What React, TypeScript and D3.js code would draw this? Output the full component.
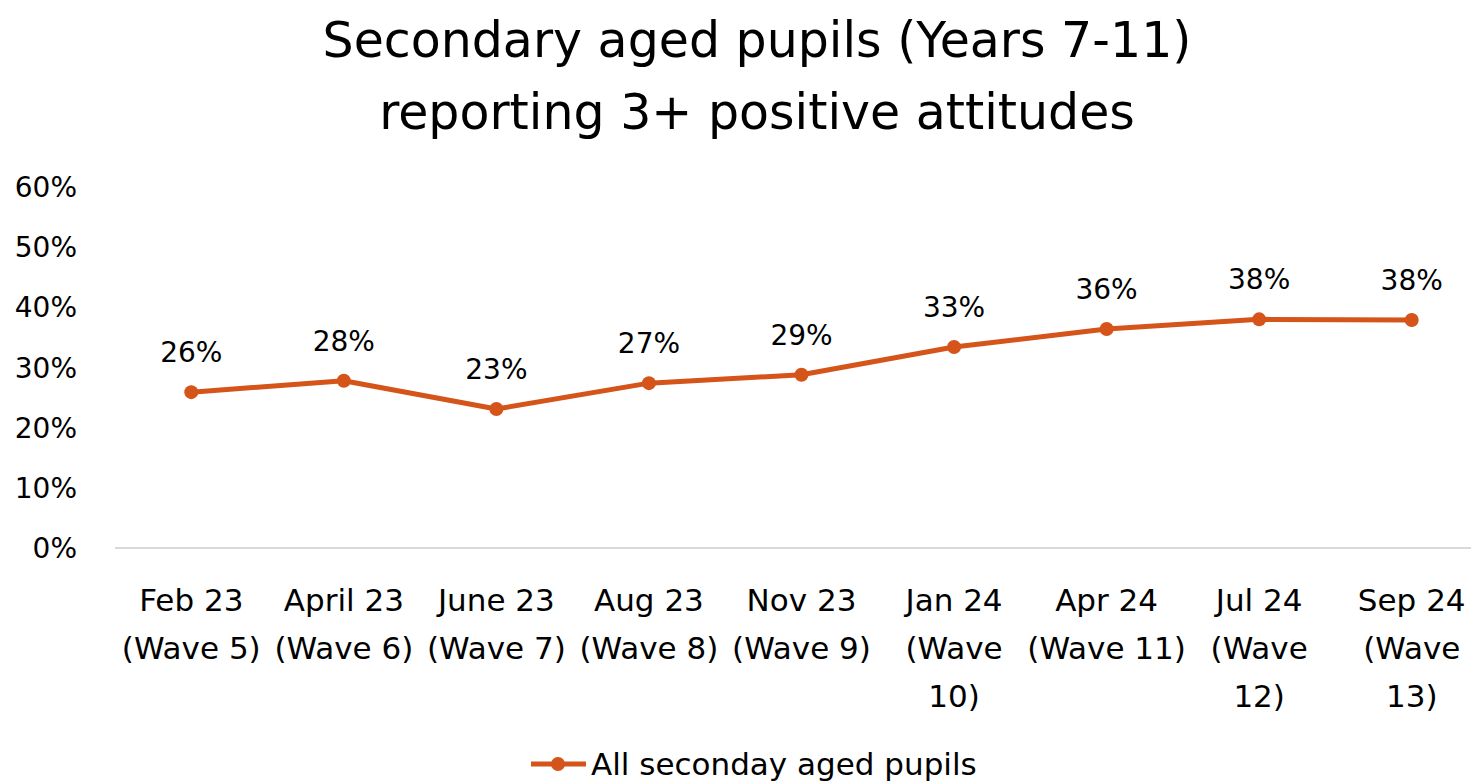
import React from "react";
import * as d3 from "d3";

const categories = [
  "Feb 23\n(Wave 5)",
  "April 23\n(Wave 6)",
  "June 23\n(Wave 7)",
  "Aug 23\n(Wave 8)",
  "Nov 23\n(Wave 9)",
  "Jan 24\n(Wave\n10)",
  "Apr 24\n(Wave 11)",
  "Jul 24\n(Wave\n12)",
  "Sep 24\n(Wave\n13)",
];
const values = [25.9, 27.8, 23.1, 27.4, 28.8, 33.4, 36.4, 38.0, 37.9];
const valueLabels = ["26%", "28%", "23%", "27%", "29%", "33%", "36%", "38%", "38%"];
const yTicks = [0, 10, 20, 30, 40, 50, 60];
const titleLines = ["Secondary aged pupils (Years 7-11)", "reporting 3+ positive attitudes"];
const seriesName = "All seconday aged pupils";

const W = 1471;
const H = 783;
const FONT = "'DejaVu Sans', sans-serif";
const ORANGE = "#D4541A";

const App: React.FC = () => {
  const x = d3.scaleBand<string>().domain(categories).range([115, 1488]);
  const y = d3.scaleLinear().domain([0, 60]).range([548, 187]);
  const cx = (c: string) => (x(c) ?? 0) + x.bandwidth() / 2;

  const line = d3
    .line<number>()
    .x((_, i) => cx(categories[i]))
    .y((d) => y(d));

  return (
    <div style={{ position: "absolute", left: 0, top: 0 }}>
      <svg width={W} height={H} style={{ display: "block", fontFamily: FONT }}>
        <rect width={W} height={H} fill="#fff" />
        {titleLines.map((t, i) => (
          <text key={t} x={757} y={57 + i * 72} textAnchor="middle" fontSize={49} fill="#000">
            {t}
          </text>
        ))}

        {yTicks.map((t) => (
          <text key={t} x={77} y={y(t) + 10} textAnchor="end" fontSize={28} fill="#000">
            {t}%
          </text>
        ))}

        <line x1={115} x2={W} y1={y(0)} y2={y(0)} stroke="#d9d9d9" strokeWidth={2} />

        <path d={line(values) ?? ""} fill="none" stroke={ORANGE} strokeWidth={5} strokeLinejoin="round" />
        {values.map((v, i) => (
          <circle key={i} cx={cx(categories[i])} cy={y(v)} r={7} fill={ORANGE} />
        ))}
        {values.map((v, i) => (
          <text
            key={"l" + i}
            x={cx(categories[i])}
            y={y(v) - 30}
            textAnchor="middle"
            fontSize={28}
            fill="#000"
          >
            {valueLabels[i]}
          </text>
        ))}

        {categories.map((c) => (
          <text key={c} textAnchor="middle" fontSize={31} fill="#000">
            {c.split("\n").map((ln, j) => (
              <tspan key={j} x={cx(c)} y={611 + j * 48}>
                {ln}
              </tspan>
            ))}
          </text>
        ))}

        <g>
          <line x1={531} x2={586} y1={764} y2={764} stroke={ORANGE} strokeWidth={5} />
          <circle cx={558} cy={764} r={7} fill={ORANGE} />
          <text x={591} y={775} fontSize={31} fill="#000">
            {seriesName}
          </text>
        </g>
      </svg>
    </div>
  );
};

export default App;
